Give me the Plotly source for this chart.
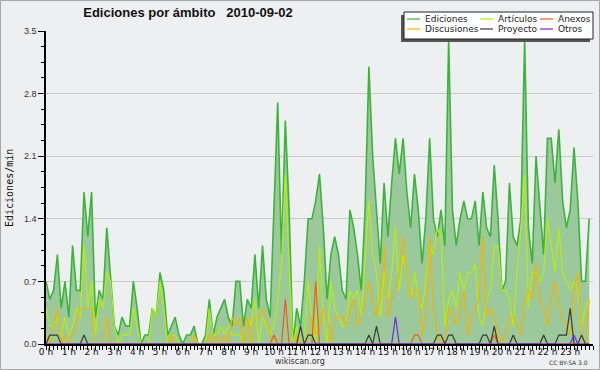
import plotly.graph_objects as go

# ---- data: edits per minute, 10-minute buckets (144 per day) ----
ediciones = [
    0.7, 0.5, 0.6, 1.0, 0.4, 0.7, 0.3, 1.1, 0.6, 0.6, 1.7, 1.2,
    1.7, 0.3, 0.6, 0.5, 1.3, 0.7, 0.2, 0.1, 0.3, 0.2, 0.2, 0.7,
    0.4, 0.0, 0.1, 0.1, 0.4, 0.3, 0.8, 0.6, 0.1, 0.2, 0.3, 0.1,
    0.0, 0.1, 0.1, 0.2, 0.0, 0.0, 0.1, 0.5, 0.1, 0.3, 0.4, 0.5,
    0.3, 0.2, 0.7, 0.7, 0.2, 0.5, 0.4, 1.0, 0.4, 1.1, 0.5, 0.3,
    1.5, 2.7, 1.0, 2.5, 1.5, 0.0, 0.4, 0.2, 0.7, 1.4, 1.4, 1.6,
    1.9, 1.3, 0.5, 1.0, 1.2, 1.0, 0.6, 0.5, 1.5, 1.3, 1.0, 0.6,
    1.5, 3.1, 2.1, 1.5, 0.9, 1.8, 1.2, 1.8, 2.3, 1.9, 2.3, 1.7,
    1.3, 1.9, 1.5, 0.9, 1.4, 2.3, 1.4, 1.2, 1.5, 1.1, 3.4, 1.5,
    1.1, 1.4, 1.6, 1.4, 1.4, 1.6, 1.1, 1.7, 1.3, 1.2, 2.0, 1.4,
    0.6, 0.7, 1.8, 1.2, 1.1, 1.4, 3.4, 1.3, 0.9, 2.1, 1.5, 1.0,
    2.3, 2.3, 1.8, 2.4, 1.6, 1.3, 1.5, 2.2, 1.6, 0.7, 0.7, 1.4,
]
articulos = [
    0.4, 0.2, 0.2, 0.3, 0.1, 0.3, 0.1, 0.2, 0.4, 0.3, 1.1, 0.4,
    0.7, 0.1, 0.5, 0.4, 0.8, 0.7, 0.2, 0.0, 0.1, 0.1, 0.1, 0.4,
    0.2, 0.0, 0.0, 0.0, 0.4, 0.3, 0.7, 0.4, 0.0, 0.1, 0.1, 0.0,
    0.0, 0.0, 0.0, 0.1, 0.0, 0.0, 0.0, 0.4, 0.1, 0.1, 0.2, 0.1,
    0.2, 0.1, 0.1, 0.1, 0.0, 0.3, 0.2, 0.5, 0.0, 0.3, 0.2, 0.1,
    0.2, 0.5, 0.9, 1.9, 0.9, 0.0, 0.2, 0.0, 0.0, 0.7, 0.3, 0.0,
    1.1, 0.3, 0.0, 0.7, 0.4, 0.3, 0.2, 0.2, 0.6, 0.5, 0.6, 0.3,
    0.9, 1.6, 1.0, 0.8, 0.3, 0.8, 0.5, 0.8, 1.3, 0.6, 1.0, 0.8,
    0.5, 0.8, 0.5, 0.4, 0.7, 1.1, 1.0, 1.3, 1.2, 0.2, 0.5, 0.6,
    0.4, 0.8, 0.6, 0.8, 0.8, 0.9, 0.3, 0.2, 0.5, 0.6, 1.1, 1.1,
    0.6, 0.6, 0.5, 0.2, 0.8, 1.3, 1.9, 0.4, 0.8, 0.8, 0.7, 0.8,
    1.4, 1.1, 0.8, 1.3, 0.8, 0.7, 0.6, 0.7, 0.6, 0.2, 0.4, 0.5,
]
discusiones = [
    0.1, 0.0, 0.2, 0.4, 0.0, 0.1, 0.0, 0.1, 0.2, 0.4, 0.4, 0.4,
    0.4, 0.0, 0.0, 0.0, 0.3, 0.0, 0.0, 0.0, 0.0, 0.0, 0.0, 0.0,
    0.0, 0.0, 0.0, 0.0, 0.0, 0.0, 0.0, 0.0, 0.0, 0.1, 0.0, 0.0,
    0.0, 0.0, 0.0, 0.1, 0.0, 0.0, 0.0, 0.1, 0.0, 0.1, 0.0, 0.1,
    0.0, 0.3, 0.2, 0.3, 0.0, 0.3, 0.0, 0.3, 0.3, 0.4, 0.3, 0.1,
    0.0, 0.0, 0.0, 0.0, 0.0, 0.0, 0.1, 0.0, 0.0, 0.1, 0.3, 0.1,
    0.2, 0.4, 0.3, 0.0, 0.3, 0.3, 0.3, 0.2, 0.4, 0.5, 0.2, 0.3,
    0.5, 0.7, 0.5, 0.3, 0.5, 1.1, 0.3, 0.5, 0.6, 0.8, 1.2, 0.8,
    0.5, 0.6, 0.6, 0.1, 0.3, 1.2, 0.4, 0.1, 0.0, 0.0, 0.4, 0.4,
    0.2, 0.4, 0.6, 0.1, 0.3, 0.4, 0.5, 1.2, 0.3, 0.4, 0.3, 0.1,
    0.0, 0.1, 0.3, 0.3, 0.2, 0.1, 0.5, 0.6, 0.5, 0.9, 0.5, 0.4,
    0.2, 0.5, 0.7, 0.4, 0.3, 0.2, 0.1, 0.6, 0.8, 0.1, 0.0, 0.5,
]
anexos = [
    0.0, 0.0, 0.0, 0.0, 0.0, 0.0, 0.0, 0.0, 0.0, 0.0, 0.0, 0.0,
    0.0, 0.0, 0.0, 0.0, 0.0, 0.0, 0.0, 0.0, 0.0, 0.0, 0.0, 0.0,
    0.0, 0.0, 0.0, 0.0, 0.0, 0.0, 0.0, 0.0, 0.0, 0.0, 0.0, 0.0,
    0.0, 0.0, 0.0, 0.0, 0.0, 0.0, 0.0, 0.0, 0.0, 0.0, 0.0, 0.0,
    0.0, 0.0, 0.0, 0.0, 0.0, 0.0, 0.0, 0.0, 0.0, 0.0, 0.0, 0.0,
    0.1, 0.0, 0.0, 0.5, 0.0, 0.0, 0.0, 0.0, 0.0, 0.0, 0.0, 0.7,
    0.0, 0.0, 0.0, 0.0, 0.0, 0.0, 0.0, 0.0, 0.0, 0.0, 0.0, 0.0,
    0.0, 0.0, 0.0, 0.0, 0.0, 0.0, 0.0, 0.0, 0.0, 0.0, 0.0, 0.0,
    0.0, 0.1, 0.1, 0.0, 0.0, 0.0, 0.0, 0.0, 0.0, 0.0, 0.0, 0.0,
    0.0, 0.0, 0.0, 0.0, 0.0, 0.0, 0.0, 0.0, 0.0, 0.0, 0.1, 0.0,
    0.0, 0.0, 0.0, 0.0, 0.0, 0.0, 0.0, 0.0, 0.0, 0.0, 0.0, 0.0,
    0.0, 0.0, 0.0, 0.0, 0.0, 0.0, 0.0, 0.0, 0.0, 0.0, 0.0, 0.0,
]
proyecto = [
    0.0, 0.1, 0.1, 0.1, 0.0, 0.0, 0.0, 0.0, 0.0, 0.0, 0.1, 0.0,
    0.0, 0.0, 0.0, 0.0, 0.0, 0.0, 0.0, 0.0, 0.0, 0.0, 0.0, 0.0,
    0.0, 0.0, 0.0, 0.0, 0.0, 0.0, 0.0, 0.0, 0.0, 0.0, 0.0, 0.0,
    0.0, 0.0, 0.0, 0.0, 0.0, 0.0, 0.0, 0.0, 0.0, 0.0, 0.0, 0.0,
    0.0, 0.0, 0.0, 0.0, 0.0, 0.0, 0.0, 0.0, 0.0, 0.0, 0.0, 0.0,
    0.0, 0.0, 0.0, 0.0, 0.0, 0.0, 0.0, 0.2, 0.0, 0.1, 0.1, 0.0,
    0.0, 0.0, 0.0, 0.0, 0.0, 0.0, 0.0, 0.0, 0.0, 0.0, 0.0, 0.0,
    0.0, 0.1, 0.0, 0.2, 0.0, 0.0, 0.0, 0.0, 0.0, 0.0, 0.0, 0.0,
    0.0, 0.0, 0.0, 0.0, 0.0, 0.0, 0.0, 0.1, 0.1, 0.0, 0.1, 0.1,
    0.0, 0.0, 0.0, 0.0, 0.0, 0.0, 0.0, 0.1, 0.1, 0.0, 0.2, 0.0,
    0.0, 0.0, 0.0, 0.1, 0.0, 0.0, 0.0, 0.0, 0.0, 0.0, 0.0, 0.1,
    0.0, 0.0, 0.0, 0.1, 0.1, 0.1, 0.4, 0.0, 0.0, 0.1, 0.0, 0.0,
]
otros = [0.0] * 92 + [0.3] + [0.0] * 46 + [0.1] + [0.0] * 4

hour_ticks = list(range(24))
hour_labels = [f"{h} h" for h in hour_ticks]
y_ticks = [0.0, 0.7, 1.4, 2.1, 2.8, 3.5]
y_labels = ["0.0", "0.7", "1.4", "2.1", "2.8", "3.5"]

series = [
    ("Ediciones", ediciones, "#3cb43c"),
    ("Artículos", articulos, "#b4ee10"),
    ("Discusiones", discusiones, "#f2b400"),
    ("Anexos", anexos, "#f25a14"),
    ("Proyecto", proyecto, "#3a3a3a"),
    ("Otros", otros, "#7a22f0"),
]

x_hours = [i / 6 for i in range(len(ediciones))]

# ---- geometry of the plot area (pixels) ----
W, H = 600, 370
L, R, T, B = 46, 7, 31, 26
PW, PH = W - L - R, H - T - B


def px(xp):
    return (xp - L) / PW


def py(yp):
    return (H - B - yp) / PH


fig = go.Figure()
for k, (name, vals, col) in enumerate(series):
    if k == 0:
        fig.add_trace(go.Scatter(x=x_hours, y=vals, name=name, mode="lines",
                                 line=dict(color=col, width=1.6),
                                 fill="tozeroy", fillcolor="#9cc99c"))
    else:
        fig.add_trace(go.Scatter(x=x_hours, y=vals, name=name, mode="lines",
                                 line=dict(color=col, width=1.2)))

bg = "#eeeff1"
fig.update_layout(
    width=W, height=H, autosize=False,
    margin=dict(l=L, r=R, t=T, b=B, pad=0),
    paper_bgcolor=bg, plot_bgcolor=bg,
    showlegend=False,
    font=dict(family="DejaVu Sans", size=9, color="#222"),
    title=dict(text="<b>Ediciones por ámbito&nbsp;&nbsp;&nbsp;2010-09-02</b>",
               font=dict(family="Liberation Sans", size=13, color="#111"),
               xref="container", yref="container",
               x=188 / W, xanchor="center", y=1 - 12 / H, yanchor="middle"),
    xaxis=dict(range=[0, 24], tickmode="array", tickvals=hour_ticks,
               ticktext=hour_labels, ticks="outside", ticklen=4,
               tickcolor="#000", tickwidth=1, showline=True,
               linecolor="#000", linewidth=1.5, showgrid=False,
               zeroline=False, tickfont=dict(size=9, color="#111"),
               ticklabelstandoff=-6,
               minor=dict(tickmode="linear", tick0=0, dtick=1 / 6,
                          ticks="outside", ticklen=4, tickcolor="#000",
                          showgrid=False)),
    yaxis=dict(range=[0, 3.5], tickmode="array", tickvals=y_ticks,
               ticktext=y_labels, ticks="outside", ticklen=6,
               tickcolor="#000", tickwidth=1, showline=True,
               linecolor="#000", linewidth=1.5, showgrid=True,
               gridcolor="#c9c9c9", gridwidth=1, zeroline=False,
               tickfont=dict(family="Liberation Sans", size=9, color="#333"),
               minor=dict(tickmode="linear", tick0=0, dtick=0.175,
                          ticks="outside", ticklen=3, tickcolor="#000",
                          showgrid=False)),
)

shapes = []
annotations = []

# outer border
shapes.append(dict(type="rect", xref="paper", yref="paper",
                   x0=px(0.5), x1=px(W - 0.5), y0=py(H - 0.5), y1=py(0.5),
                   line=dict(color="#a8a8a8", width=1), layer="above"))

# legend: shadow, box, samples, labels
shapes.append(dict(type="rect", xref="paper", yref="paper",
                   x0=px(401), x1=px(590), y0=py(42), y1=py(15),
                   fillcolor="#555", line=dict(width=0), layer="above"))
shapes.append(dict(type="rect", xref="paper", yref="paper",
                   x0=px(404), x1=px(593), y0=py(39), y1=py(12),
                   fillcolor="#ffffff", line=dict(color="#222", width=1),
                   layer="above"))
legend_pos = {
    "Ediciones": (407, 19), "Artículos": (480, 19), "Anexos": (540, 19),
    "Discusiones": (407, 29), "Proyecto": (480, 29), "Otros": (540, 29),
}
for name, vals, col in series:
    lx, ly = legend_pos[name]
    shapes.append(dict(type="line", xref="paper", yref="paper",
                       x0=px(lx), x1=px(lx + 13), y0=py(ly), y1=py(ly),
                       line=dict(color=col, width=1.2), layer="above"))
    annotations.append(dict(text=name, xref="paper", yref="paper",
                            x=px(lx + 16), y=py(ly), xanchor="left",
                            yanchor="middle", showarrow=False,
                            font=dict(family="DejaVu Sans", size=9,
                                      color="#222")))

# y axis title
annotations.append(dict(text="Ediciones/min", xref="paper", yref="paper",
                        x=px(9), y=py(188), textangle=-90, showarrow=False,
                        xanchor="center", yanchor="middle",
                        font=dict(family="DejaVu Sans Mono", size=10,
                                  color="#111")))
# footer
annotations.append(dict(text="wikiscan.org", xref="paper", yref="paper",
                        x=px(300), y=py(361.5), showarrow=False,
                        xanchor="center", yanchor="middle",
                        font=dict(family="DejaVu Sans", size=8, color="#333")))
annotations.append(dict(text="CC BY-SA 3.0", xref="paper", yref="paper",
                        x=px(590), y=py(362.5), showarrow=False,
                        xanchor="right", yanchor="middle",
                        font=dict(family="DejaVu Sans", size=6, color="#333")))

fig.update_layout(shapes=shapes, annotations=annotations)
fig.write_html("out.html", config={"displayModeBar": False},
               post_script="document.body.style.margin='0';"
                           "document.body.style.background='" + bg + "';")
